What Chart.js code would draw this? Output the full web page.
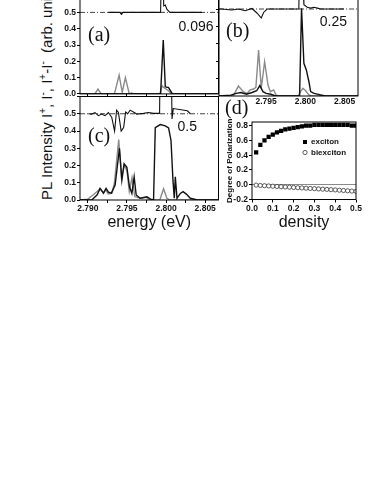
<!DOCTYPE html>
<html>
<head>
<meta charset="utf-8">
<script src="https://cdn.jsdelivr.net/npm/chart.js@4"></script>
<style>
  body { margin: 0; background: #fff; width: 382px; height: 494px; overflow: hidden; position: relative;
         font-family: "Liberation Sans", Arial, sans-serif; }
  canvas { position: absolute; }
  #ytitle { position: absolute; left: 0; top: 0; white-space: nowrap; font-size: 15px; line-height: 18px; color: #111;
            transform-origin: 0 0; transform: translate(38px, 200px) rotate(-90deg); }
  #ytitle sup { font-size: 10px; line-height: 0; vertical-align: 6px; }
</style>
</head>
<body>
<div id="ytitle">PL Intensity I<sup>+</sup>, I<sup>-</sup>, I<sup>+</sup>-I<sup>-</sup>&nbsp; (arb. units)</div>
<canvas id="pa" width="220" height="110" style="left:0;top:-10px"></canvas>
<canvas id="pb" width="150" height="116" style="left:215px;top:-10px"></canvas>
<canvas id="pc" width="220" height="142" style="left:0;top:90px"></canvas>
<canvas id="pd" width="150" height="137" style="left:215px;top:95px"></canvas>
<script>
// energy axis range (eV) and offset of the I+ - I- trace
const energyRange = [2.789, 2.8067];
const diffOffset = 0.5;

// panel (a), density 0.096
const aPlusE  = [2.7890, 2.7993, 2.79964, 2.7999, 2.8001, 2.8003, 2.8005, 2.8008, 2.8067];
const aPlusI  = [0, 0, 0.33, 0.045, 0.04, 0.04, 0.025, 0, 0];
const aMinusE = [2.7890, 2.7909, 2.7913, 2.7917, 2.7934, 2.7940, 2.7944, 2.7948, 2.7953, 2.7956, 2.7959,
                 2.7992, 2.7995, 2.7997, 2.8000, 2.8003, 2.8007, 2.8067];
const aMinusI = [0, 0, 0.03, 0, 0, 0.115, 0.01, 0.10, 0, 0.006, 0, 0, 0.05, 0.04, 0.03, 0.02, 0, 0];
const aDiffE  = [2.7926, 2.7941, 2.7943, 2.7945, 2.7993, 2.7994, 2.7996, 2.7997, 2.7999, 2.8001, 2.8003, 2.8005, 2.8046];
const aDiffI  = [0.5, 0.5, 0.488, 0.5, 0.5, 0.78, 0.78, 0.54, 0.545, 0.52, 0.51, 0.5, 0.5];

// panel (b), density 0.25
const bPlusE  = [2.7890, 2.7905, 2.7912, 2.7918, 2.7925, 2.7932, 2.7938, 2.7942, 2.7946, 2.7950, 2.7956, 2.7962,
                 2.79926, 2.79951, 2.79981, 2.80012, 2.80045, 2.80067, 2.8011, 2.80153, 2.80195, 2.8025, 2.8067];
const bPlusI  = [0, 0.005, 0.015, 0.02, 0.01, 0.02, 0.03, 0.06, 0.025, 0.015, 0.01, 0,
                 0, 0.504, 0.188, 0.15, 0.082, 0.025, 0.015, 0.011, 0.006, 0, 0];
const bMinusE = [2.7890, 2.7908, 2.79147, 2.7921, 2.79255, 2.79297, 2.7934, 2.7937, 2.79404, 2.79438, 2.79481,
                 2.79524, 2.79554, 2.79596, 2.79627, 2.7965, 2.7991, 2.79938, 2.79968, 2.80003, 2.80045, 2.8008, 2.8067];
const bMinusI = [0, 0, 0.057, 0.025, 0.015, 0.035, 0.04, 0.05, 0.264, 0.044, 0.197,
                 0.063, 0.025, 0.035, 0.006, 0, 0, 0.025, 0.044, 0.03, 0.006, 0, 0];
const bDiffE  = [2.7890, 2.78935, 2.79063, 2.79147, 2.79233, 2.79319, 2.79383, 2.79438, 2.79468, 2.79512, 2.79917,
                 2.79926, 2.7996, 2.79973, 2.79981, 2.80024, 2.80067, 2.8011, 2.80153, 2.80195, 2.8049];
const bDiffI  = [0.5, 0.5, 0.494, 0.5, 0.49, 0.503, 0.477, 0.448, 0.48, 0.5, 0.5,
                 0.95, 0.95, 0.6, 0.525, 0.51, 0.505, 0.51, 0.505, 0.5, 0.5];

// panel (c), density 0.5
const cPlusE  = [2.7890, 2.7905, 2.7912, 2.79156, 2.7920, 2.79233, 2.79263, 2.7930, 2.79349, 2.79404, 2.79435,
                 2.79464, 2.79499, 2.79532, 2.79563, 2.79592, 2.79618, 2.79669, 2.79755, 2.7980, 2.7984, 2.79862,
                 2.79926, 2.7999, 2.80032, 2.80063, 2.80088, 2.80105, 2.80118, 2.8014, 2.80182, 2.80217, 2.80259,
                 2.8031, 2.8040, 2.8067];
const cPlusI  = [0, 0, 0.03, 0.067, 0.04, 0.067, 0.045, 0.04, 0.086, 0.30, 0.115,
                 0.21, 0.19, 0.077, 0.038, 0.134, 0.029, 0.01, 0.019, 0.005, 0, 0.42,
                 0.437, 0.43, 0.418, 0.345, 0.115, 0.01, 0.134, 0.01, 0.038, 0.048, 0.034,
                 0.01, 0, 0];
const cMinusE = [2.7890, 2.7900, 2.7907, 2.7916, 2.7920, 2.7923, 2.7926, 2.7931, 2.7934, 2.79395, 2.7943, 2.79465,
                 2.7950, 2.7953, 2.79565, 2.7960, 2.7967, 2.7975, 2.7978, 2.7992, 2.79968, 2.8001, 2.8005, 2.8067];
const cMinusI = [0, 0.005, 0.03, 0.065, 0.04, 0.06, 0.035, 0.04, 0.10, 0.35, 0.13, 0.20,
                 0.17, 0.05, 0.13, 0.02, 0.01, 0.015, 0, 0, 0.065, 0.01, 0, 0];
const cDiffE  = [2.79006, 2.7905, 2.79092, 2.79135, 2.79178, 2.7922, 2.79263, 2.79306, 2.79342, 2.79368,
                 2.79391, 2.79426, 2.79458, 2.79483, 2.79509, 2.79541, 2.79627, 2.79712, 2.79776, 2.7984, 2.79917,
                 2.79926, 2.80063, 2.80076, 2.80092, 2.80272, 2.8031];
const cDiffI  = [0.5, 0.498, 0.507, 0.489, 0.498, 0.489, 0.507, 0.479, 0.40, 0.521,
                 0.507, 0.40, 0.42, 0.51, 0.50, 0.521, 0.498, 0.502, 0.507, 0.502, 0.502,
                 0.9, 0.9, 0.47, 0.53, 0.517, 0.5];

// panel (d)
const density   = [0.02, 0.04, 0.06, 0.08, 0.10, 0.12, 0.14, 0.16, 0.18, 0.20, 0.22, 0.24, 0.26,
                   0.28, 0.30, 0.32, 0.34, 0.36, 0.38, 0.40, 0.42, 0.44, 0.46, 0.48, 0.50];
const exciton   = [0.44, 0.54, 0.60, 0.65, 0.68, 0.71, 0.73, 0.75, 0.76, 0.77, 0.78, 0.79, 0.80,
                   0.80, 0.81, 0.81, 0.81, 0.81, 0.81, 0.81, 0.81, 0.81, 0.81, 0.80, 0.80];
const biexciton = [-0.005, -0.01, -0.013, -0.016, -0.02, -0.023, -0.027, -0.03, -0.033, -0.037, -0.04, -0.043, -0.047,
                   -0.05, -0.053, -0.057, -0.06, -0.063, -0.067, -0.07, -0.074, -0.078, -0.082, -0.086, -0.09];

const sans = "'Liberation Sans', Arial, sans-serif";
const serif = "'Liberation Serif', 'Times New Roman', serif";
const tickFont = { family: sans, size: 8.5, weight: 'bold' };

const pts = (xs, ys) => xs.map((x, i) => ({ x: x, y: ys[i] }));

const frame = {
  id: 'frame',
  afterDatasetsDraw(chart) {
    const { ctx, chartArea: a } = chart;
    ctx.save();
    ctx.strokeStyle = '#000';
    ctx.lineWidth = 1;
    ctx.strokeRect(a.left, a.top, a.right - a.left, a.bottom - a.top);
    ctx.restore();
  }
};

const notes = {
  id: 'notes',
  afterDraw(chart, args, opts) {
    const { ctx, chartArea: a } = chart;
    (opts.items || []).forEach(n => {
      ctx.save();
      ctx.font = n.font;
      ctx.fillStyle = '#111';
      ctx.textAlign = n.align;
      ctx.textBaseline = 'middle';
      ctx.fillText(n.text, (n.align === 'right' ? a.right : a.left) + n.dx, a.top + n.dy);
      ctx.restore();
    });
  }
};

const legendBox = {
  id: 'legendBox',
  afterDraw(chart) {
    const { ctx, chartArea: a } = chart;
    chart.data.datasets.forEach((ds, i) => {
      const x = a.left + 53, y = a.top + 20 + i * 10.5;
      ctx.save();
      ctx.fillStyle = ds.backgroundColor;
      ctx.strokeStyle = ds.borderColor;
      ctx.lineWidth = ds.borderWidth;
      ctx.beginPath();
      if (ds.pointStyle === 'rect') {
        ctx.fillRect(x - 2, y - 2, 4, 4);
      } else {
        ctx.arc(x, y, ds.pointRadius, 0, Math.PI * 2);
        ctx.fill();
        ctx.stroke();
      }
      ctx.font = 'bold 8px ' + sans;
      ctx.fillStyle = '#111';
      ctx.textBaseline = 'middle';
      ctx.fillText(ds.label, x + 6, y);
      ctx.restore();
    });
  }
};

function energyAxis(opts) {
  return {
    type: 'linear', min: energyRange[0], max: energyRange[1],
    afterFit: s => { s.height = opts.height; },
    grid: { drawOnChartArea: false, drawTicks: opts.drawTicks !== false, tickLength: 3, tickColor: '#000' },
    border: { display: false },
    ticks: {
      stepSize: 0.0025, includeBounds: false, autoSkip: false, maxRotation: 0, minRotation: 0, padding: 1,
      display: opts.labels, font: tickFont, color: '#111',
      callback: v => {
        const major = Math.abs(Math.round(v / 0.005) * 0.005 - v) < 1e-7;
        if (!major) return '';
        if (opts.hideFirst && Math.abs(v - 2.790) < 1e-7) return '';
        return v.toFixed(3);
      }
    },
    title: opts.title ? { display: true, text: opts.title, font: { family: sans, size: 16 }, color: '#111', padding: 0 }
                      : { display: false }
  };
}

function intensityAxis(width, labels) {
  return {
    type: 'linear', min: 0, max: 0.6,
    afterFit: s => { s.width = width; },
    grid: { drawOnChartArea: false, tickLength: 3, tickColor: '#000' },
    border: { display: false },
    ticks: {
      stepSize: 0.1, display: labels, padding: 1, font: tickFont, color: '#111',
      callback: v => v > 0.55 ? '' : v.toFixed(1)
    }
  };
}

function spectra(plus, minus, diff) {
  return [
    { data: plus, borderColor: '#111', borderWidth: 1.4 },
    { data: minus, borderColor: '#8a8a8a', borderWidth: 1.4 },
    { data: diff, borderColor: '#111', borderWidth: 1.1 },
    { data: pts(energyRange, [diffOffset, diffOffset]), borderColor: '#444', borderWidth: 1, borderDash: [5, 2, 1, 2] }
  ];
}

const common = {
  responsive: false, animation: false, events: [],
  elements: { point: { radius: 0 }, line: { tension: 0 } },
};

function spectrumChart(id, datasets, x, y, padding, items) {
  return new Chart(document.getElementById(id), {
    type: 'line',
    data: { datasets: datasets },
    options: Object.assign({}, common, {
      layout: { padding: padding },
      scales: { x: x, y: y },
      plugins: { legend: { display: false }, tooltip: { enabled: false }, notes: { items: items } }
    }),
    plugins: [frame, notes]
  });
}

spectrumChart('pa',
  spectra(pts(aPlusE, aPlusI), pts(aMinusE, aMinusI), pts(aDiffE, aDiffI)),
  energyAxis({ height: 4, labels: false }), intensityAxis(80, true),
  { top: 1.6, right: 1.5, bottom: 0, left: 0 },
  [{ text: '(a)', font: '20px ' + serif, align: 'left', dx: 8, dy: 40 },
   { text: '0.096', font: '14px ' + sans, align: 'right', dx: -5, dy: 31 }]);

spectrumChart('pb',
  spectra(pts(bPlusE, bPlusI), pts(bMinusE, bMinusI), pts(bDiffE, bDiffI)),
  energyAxis({ height: 10, labels: true, hideFirst: true, drawTicks: false }), intensityAxis(4, false),
  { top: 1.6, right: 7, bottom: 0, left: 0 },
  [{ text: '(b)', font: '20px ' + serif, align: 'left', dx: 7, dy: 40 },
   { text: '0.25', font: '14px ' + sans, align: 'right', dx: -11, dy: 31 }]);

spectrumChart('pc',
  spectra(pts(cPlusE, cPlusI), pts(cMinusE, cMinusI), pts(cDiffE, cDiffI)),
  energyAxis({ height: 32, labels: true, title: 'energy (eV)' }), intensityAxis(80, true),
  { top: 6.5, right: 1.5, bottom: 0, left: 0 },
  [{ text: '(c)', font: '20px ' + serif, align: 'left', dx: 8, dy: 40 },
   { text: '0.5', font: '14px ' + sans, align: 'right', dx: -21.5, dy: 31 }]);

new Chart(document.getElementById('pd'), {
  type: 'scatter',
  data: {
    datasets: [
      { label: 'exciton', data: pts(density, exciton), pointStyle: 'rect', pointRadius: 3,
        backgroundColor: '#000', borderColor: '#000', borderWidth: 0 },
      { label: 'biexciton', data: pts(density, biexciton), pointStyle: 'circle', pointRadius: 2.1,
        backgroundColor: '#fff', borderColor: '#333', borderWidth: 0.8 }
    ]
  },
  options: Object.assign({}, common, {
    layout: { padding: { top: 27, right: 9, bottom: 0, left: 0 } },
    scales: {
      x: {
        type: 'linear', min: 0, max: 0.5,
        afterFit: s => { s.height = 32.5; },
        grid: { drawOnChartArea: false, tickLength: 3, tickColor: '#000' },
        border: { display: false },
        ticks: { stepSize: 0.1, padding: 1, maxRotation: 0, autoSkip: false, font: tickFont, color: '#111',
                 callback: v => v.toFixed(1) },
        title: { display: true, text: 'density', font: { family: sans, size: 16 }, color: '#111', padding: 0 }
      },
      y: {
        type: 'linear', min: -0.2, max: 0.85,
        afterFit: s => { s.width = 37; },
        grid: { tickLength: 3, tickColor: '#000',
                color: c => (c.tick && Math.abs(c.tick.value) < 1e-9) ? '#8a8a8a' : 'rgba(0,0,0,0)' },
        border: { display: false },
        ticks: { stepSize: 0.2, includeBounds: false, padding: 1, font: tickFont, color: '#111',
                 callback: v => (Math.abs(v) < 1e-9 ? 0 : v).toFixed(1) },
        title: { display: true, text: 'Degree of Polarization', font: { family: sans, size: 8, weight: 'bold' },
                 color: '#111', padding: { top: 10, bottom: 0 } }
      }
    },
    plugins: { legend: { display: false }, tooltip: { enabled: false },
               notes: { items: [{ text: '(d)', font: '20px ' + serif, align: 'left', dx: -27, dy: -13 }] } }
  }),
  plugins: [frame, notes, legendBox]
});
</script>
</body>
</html>
